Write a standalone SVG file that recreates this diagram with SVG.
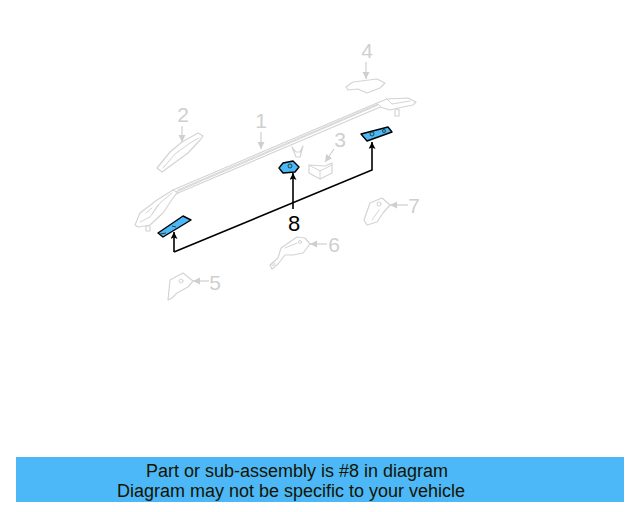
<svg xmlns="http://www.w3.org/2000/svg" width="640" height="512" viewBox="0 0 640 512">
<defs>
<marker id="ag" markerWidth="7" markerHeight="7" refX="6" refY="3" orient="auto"><path d="M0 0L6 3L0 6Z" fill="#cfcfcf"/></marker>
<marker id="ak" markerWidth="8" markerHeight="8" refX="7" refY="3.5" orient="auto" markerUnits="userSpaceOnUse"><path d="M0 0L7 3.5L0 7L1.5 3.5Z" fill="#000"/></marker>
</defs>
<style>
.p{fill:#fff;stroke:#d4d4d4;stroke-width:1.2;stroke-linejoin:round;stroke-linecap:round}
.d{fill:none;stroke:#d4d4d4;stroke-width:1;stroke-linecap:round}
.a{fill:none;stroke:#cfcfcf;stroke-width:1.2;marker-end:url(#ag)}
.l{font-family:"Liberation Sans",Arial,sans-serif;font-size:21px;fill:#cfcfcf;text-anchor:middle}
.b{fill:#4db8f8;stroke:#000;stroke-width:1.4;stroke-linejoin:round}
.h{fill:none;stroke:#1c3a20;stroke-width:.9}
.k{fill:none;stroke:#000;stroke-width:1.6;marker-end:url(#ak)}
.t{font-family:"Liberation Sans",Arial,sans-serif;font-size:18px;fill:#141400;text-anchor:middle}
</style>
<g id="node-1">
<path class="p" d="M173 190L377 103L387 99L408 98L416 102L413 105L398 108L390 110L380 107L378 108L178 193L175 195L163 213L150 225L138 227L135 225L140 213L157 200Z"/>
<path class="d" d="M176 192L378 105M178 190L378 104M378 104L381 107M173 190L178 193M387 99L392 104L410 101M140 222L150 217L160 203L172 193M146 213L152 208M152 214L158 205"/>
<path class="p" d="M146 226L150 226L150 231L146 231Z"/>
<path class="p" d="M395 110L399 109L399 116L395 116Z"/>
<path class="p" d="M292 147L296 157L300 157L303 146L300 152L296 152Z"/>
<text class="l" x="261" y="128">1</text><path class="a" d="M261 132L261 149"/>
</g>
<g id="node-2">
<path class="p" d="M157 168L170 152L182 142L198 133L203 136L200 140L188 153L162 172Z"/>
<path class="d" d="M163 168L175 154L190 143L199 138"/>
<text class="l" x="183" y="122">2</text><path class="a" d="M182 126L182 142"/>
</g>
<g id="node-3">
<path class="p" d="M309 165L325 166L332 163L332 173L320 179L309 173Z"/>
<path class="d" d="M309 165L320 171L332 165M320 171L320 179"/>
<text class="l" x="340" y="147">3</text><path class="a" d="M334 149L325 162"/>
</g>
<g id="node-4">
<path class="p" d="M346 87L353 82L377 79L385 83L380 88L367 93L358 89L348 90Z"/>
<text class="l" x="367" y="58">4</text><path class="a" d="M366 62L366 79"/>
</g>
<g id="node-5">
<path class="p" d="M168 300L170 280L183 273L193 281L188 287L177 293L172 298Z"/>
<circle class="d" cx="181" cy="281" r="2"/>
<text class="l" x="215" y="290">5</text><path class="a" d="M209 281L193 281"/>
</g>
<g id="node-6">
<path class="p" d="M278 258L281 248L297 237L305 238L310 244L303 253L293 255L285 255L278 264L272 269L270 265Z"/>
<path class="d" d="M285 248L297 243"/><circle class="d" cx="273" cy="264" r="1.5"/><circle class="d" cx="300" cy="242" r="1.5"/>
<text class="l" x="334" y="252">6</text><path class="a" d="M327 244L310 244"/>
</g>
<g id="node-7">
<path class="p" d="M364 220L370 203L382 198L390 205L383 213L377 222L367 225Z"/>
<path class="d" d="M372 220L379 210"/><circle class="d" cx="379" cy="204" r="2"/>
<text class="l" x="414" y="213">7</text><path class="a" d="M408 205L390 205"/>
</g>
<g id="node-8">
<path class="b" d="M158 233L183 216L191 220L163 237Z"/>
<path class="h" d="M172 226L176 227M160 234L166 233"/>
<path class="b" d="M361 134L388 127L392 132L367 141Z"/>
<circle class="h" cx="372" cy="134" r="2"/><circle class="h" cx="384" cy="131" r="1.5"/>
<path class="b" d="M279 168L283 163L293 161L299 167L295 172L283 173Z"/>
<circle class="h" cx="290" cy="166" r="2"/>
<text x="294" y="231" style="font-family:'Liberation Sans',Arial,sans-serif;font-size:22px;fill:#000;text-anchor:middle">8</text>
</g>
<g id="connectors">
<path class="k" d="M174 252L174 232"/>
<path class="k" d="M174 252L372 170L372 142"/>
<path class="k" d="M293 209L293 173"/>
</g>
<g id="banner">
<rect x="16" y="457" width="608" height="45" fill="#4db8f8"/>
<text class="t" x="297" y="477">Part or sub-assembly is #8 in diagram</text>
<text class="t" x="291" y="497">Diagram may not be specific to your vehicle</text>
</g>
</svg>
